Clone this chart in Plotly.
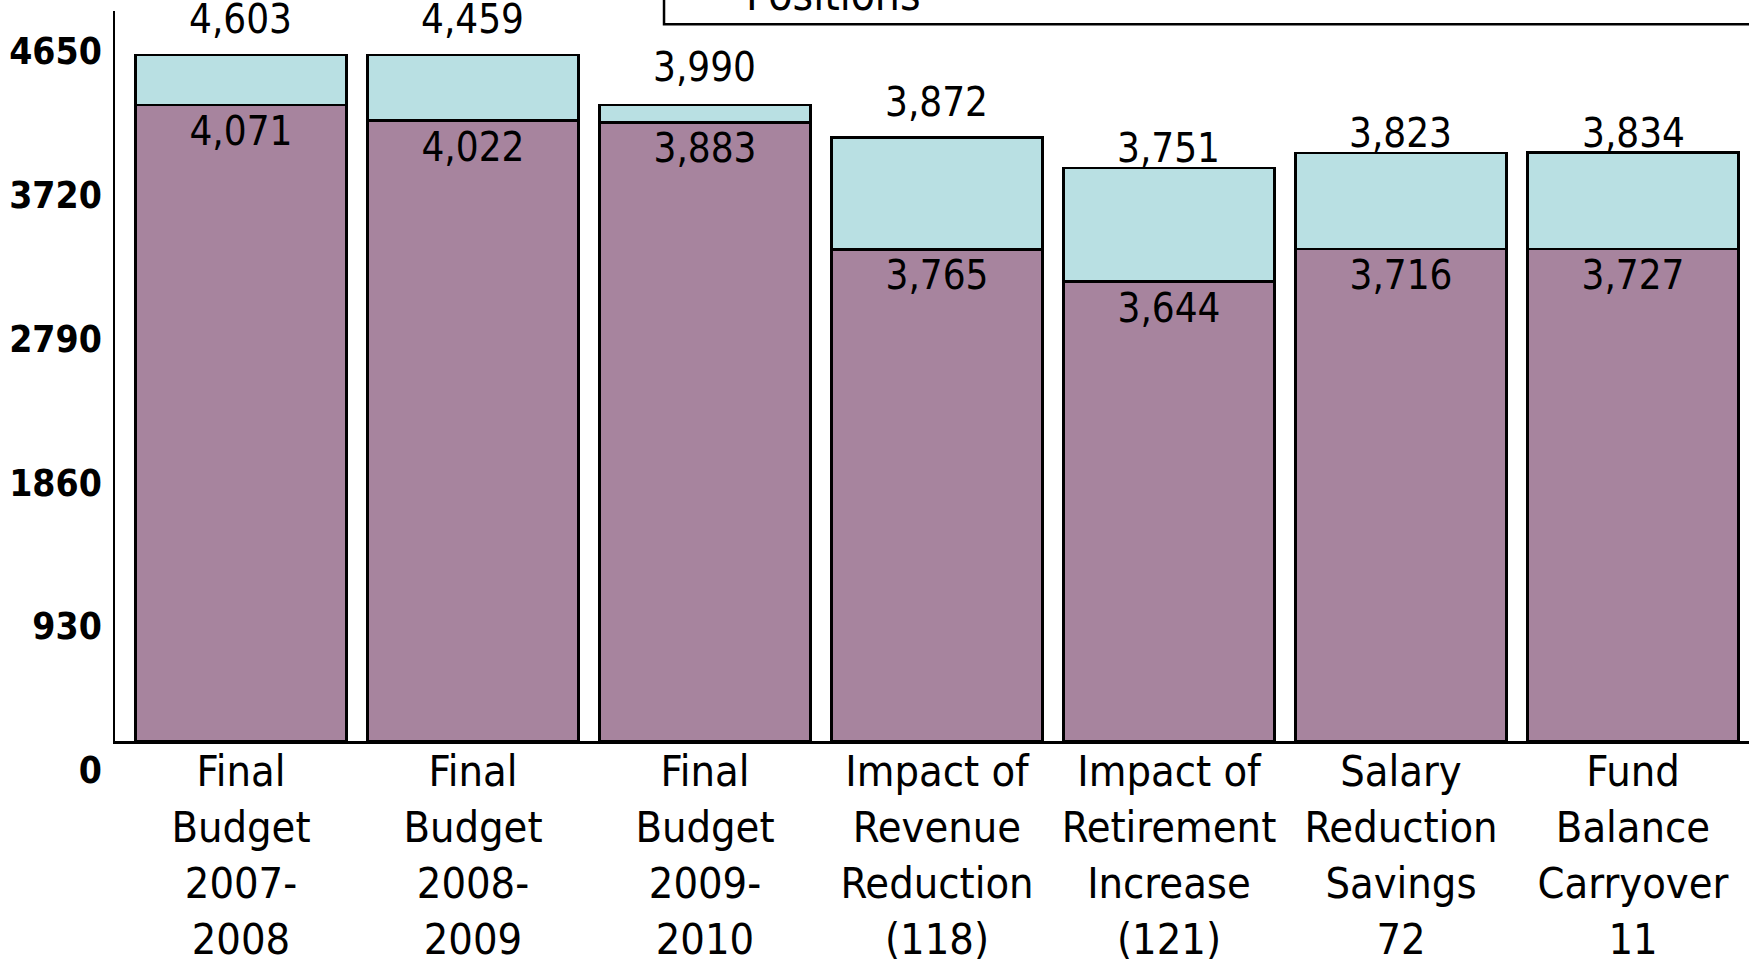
import plotly.graph_objects as go

# Category labels (bottom axis)
categories = [
    "Final<br>Budget<br>2007-<br>2008",
    "Final<br>Budget<br>2008-<br>2009",
    "Final<br>Budget<br>2009-<br>2010",
    "Impact of<br>Revenue<br>Reduction<br>(118)",
    "Impact of<br>Retirement<br>Increase<br>(121)",
    "Salary<br>Reduction<br>Savings<br>72",
    "Fund<br>Balance<br>Carryover<br>11",
]

# Printed values on the chart
filled_values = [4071, 4022, 3883, 3765, 3644, 3716, 3727]
total_values = [4603, 4459, 3990, 3872, 3751, 3823, 3834]

# Bar heights as drawn in the original (not to scale with the printed values),
# read off the left axis
filled_drawn = [4116, 4015, 4004, 3182, 2973, 3184, 3184]
total_drawn = [4440, 4440, 4116, 3905, 3707, 3804, 3808]

y_ticks = [0, 930, 1860, 2790, 3720, 4650]

FONT = "Liberation Sans Narrow, DejaVu Sans Condensed, Arial Narrow, sans-serif"
PURPLE = "#A7849E"
CYAN = "#B9E0E3"

top_segment = [t - f for t, f in zip(total_drawn, filled_drawn)]

fig = go.Figure()
fig.add_trace(
    go.Bar(
        x=categories,
        y=filled_drawn,
        marker=dict(color=PURPLE, line=dict(color="black", width=2.5)),
        text=[f"{v:,}" for v in filled_values],
        textposition="inside",
        insidetextanchor="end",
        textangle=0,
        constraintext="none",
        textfont=dict(family=FONT, size=40, color="black"),
        name="Filled",
    )
)
fig.add_trace(
    go.Bar(
        x=categories,
        y=top_segment,
        marker=dict(color=CYAN, line=dict(color="black", width=2.5)),
        name="Positions",
    )
)

# totals above each bar
label_shift = [36, 36, 38, 36, 20, 20, 20]
for cat, yv, val, sh in zip(categories, total_drawn, total_values, label_shift):
    fig.add_annotation(
        x=cat, y=yv, text=f"{val:,}", showarrow=False,
        yanchor="middle", yshift=sh,
        font=dict(family=FONT, size=40, color="black"),
    )

# legend box, cut off at the top of the slide
fig.add_shape(
    type="rect", xref="paper", yref="paper",
    x0=0.336, x1=1.05, y0=0.9818, y1=1.2,
    line=dict(color="black", width=2.5), fillcolor="white", layer="above",
)
fig.add_annotation(
    xref="paper", yref="paper", x=0.385, y=0.985, xanchor="left", yanchor="bottom",
    text="Positions", showarrow=False,
    font=dict(family=FONT, size=44, color="black"),
)

fig.update_layout(
    barmode="stack",
    bargap=0.09,
    showlegend=False,
    width=1749,
    height=980,
    margin=dict(l=115, r=0, t=11, b=239),
    paper_bgcolor="white",
    plot_bgcolor="white",
    font=dict(family=FONT, color="black"),
    xaxis=dict(
        type="category",
        range=[-0.543, 6.5],
        automargin=False,
        showline=True,
        linecolor="black",
        linewidth=2.5,
        showgrid=False,
        ticks="",
        ticklabelstandoff=-9,
        tickfont=dict(family=FONT, size=43, color="black"),
    ),
    yaxis=dict(
        range=[0, 4724.5],
        automargin=False,
        tickvals=y_ticks,
        ticktext=[str(v) for v in y_ticks],
        showline=True,
        linecolor="black",
        linewidth=1.5,
        showgrid=False,
        zeroline=False,
        ticks="",
        ticklabelshift=29,
        ticklabelstandoff=4,
        tickfont=dict(family=FONT, size=37, color="black", weight="bold"),
    ),
)

# drop the default page margin so the figure sits at the window's corner
fig.write_html(
    "out.html",
    config={"displayModeBar": False},
    post_script="document.body.style.margin = '0';",
)
